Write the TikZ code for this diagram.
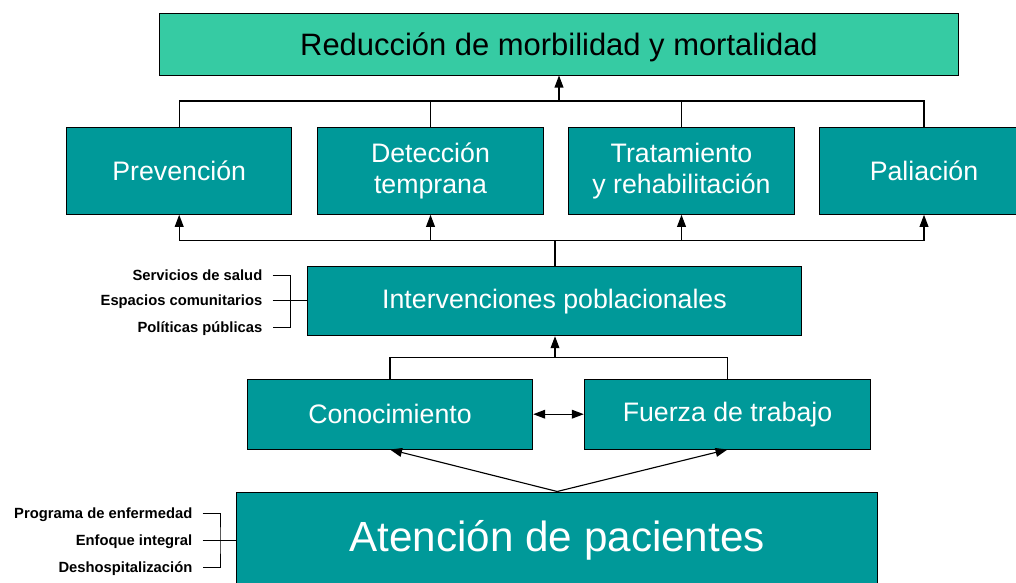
\documentclass[tikz,border=0pt]{standalone}
\usepackage{fontspec}
\setmainfont{Liberation Sans}
\usetikzlibrary{arrows.meta}
\definecolor{verdeagua}{HTML}{36CBA3}
\definecolor{verdeazul}{HTML}{009999}
\tikzset{
  caja/.style={draw, line width=0.7pt, fill=verdeazul, text=white, align=center, inner sep=0pt, font=\fontsize{19}{22}\selectfont},
  etiq/.style={anchor=east, inner sep=0pt, outer xsep=0.26cm, text height=7.5pt, text depth=0pt, font=\fontsize{10.5}{12}\selectfont\bfseries},
  punta/.tip={Triangle[length=3mm,width=2.2mm]},
  flecha/.style={-punta},
  linea/.style={line width=0.8pt},
  llave/.style={line width=0.6pt}
}
\begin{document}
\begin{tikzpicture}[x=0.025cm, y=-0.025cm]
  \useasboundingbox (0,0) rectangle (1016,583);
  %Objetivo
  \node [caja, fill=verdeagua, text=black, font=\fontsize{22}{26}\selectfont, text height=17pt, text depth=1pt, minimum width=19.95cm, minimum height=1.525cm]
  (reduc)at(559,44.5){Reducción de morbilidad y mortalidad};
  %Estrategias
  \node [caja, minimum width=5.625cm, minimum height=2.175cm]
  (prev)at(179.2,170.8){Prevención};
  \node [caja, minimum width=5.625cm, minimum height=2.175cm]
  (detec)at(430.5,170.8){Detección\\temprana};
  \node [caja, minimum width=5.625cm, minimum height=2.175cm]
  (trat)at(681.5,170.8){Tratamiento\\y rehabilitación};
  \node [caja, minimum width=5.2cm, minimum height=2.175cm]
  (palia)at(924,170.8){Paliación};
  %Intervenciones
  \node [caja, minimum width=12.34cm, minimum height=1.725cm]
  (interv)at(554.5,301.2){Intervenciones poblacionales};
  %Conocimiento y fuerza de trabajo
  \node [caja, minimum width=7.135cm, minimum height=1.74cm]
  (conoc)at(390,414.2){Conocimiento};
  \node [caja, minimum width=7.16cm, minimum height=1.74cm]
  (fuerza)at(727.5,414.2){Fuerza de trabajo};
  %Atencion
  \node [caja, font=\fontsize{30}{36}\selectfont, minimum width=16.025cm, minimum height=2.4cm]
  (atenc)at(557.2,540){Atención de pacientes};
  %Etiquetas
  \node [etiq] (serv)at(272.7,275.5){Servicios de salud};
  \node [etiq] (espac)at(272.7,300.7){Espacios comunitarios};
  \node [etiq] (polit)at(272.7,327){Políticas públicas};
  \node [etiq] (progr)at(202.7,513.7){Programa de enfermedad};
  \node [etiq] (enfoq)at(202.7,540.7){Enfoque integral};
  \node [etiq] (deshos)at(202.7,567.3){Deshospitalización};

  %Conectores
  \coordinate (union1) at (559,101);
  \coordinate (union2) at (555,240.7);
  \coordinate (union3) at (555,357.3);
  \coordinate (llave1) at (290.7,300.7);
  \coordinate (llave2) at (220,540.7);

  \draw [linea] (prev.north) |- (union1) -| (palia.north);
  \draw [linea] (detec.north) -- (detec.north |- union1);
  \draw [linea] (trat.north) -- (trat.north |- union1);
  \draw [linea, flecha] (union1) -- (union1 |- reduc.south);

  \draw [linea] (union2 |- interv.north) -- (union2);
  \draw [linea] (prev.south |- union2) -- (palia.south |- union2);
  \foreach \nodo in {prev, detec, trat, palia}
    \draw [linea, flecha] (\nodo.south |- union2) -- (\nodo.south);

  \draw [linea, flecha] (union3) -- (union3 |- interv.south);
  \draw [linea] (conoc.north) |- (union3) -| (fuerza.north);
  \draw [linea, punta-punta] (conoc.east) -- (fuerza.west);
  \draw [linea, flecha] (atenc.north) -- (conoc.south);
  \draw [linea, flecha] (atenc.north) -- (fuerza.south);

  %Llaves
  \draw [llave] (serv.east) -| (llave1) |- (polit.east);
  \draw [linea] (espac.east) -- (espac.east -| interv.west);
  \draw [llave] (progr.east) -| (llave2) |- (deshos.east);
  \draw [linea] (enfoq.east) -- (enfoq.east -| atenc.west);
\end{tikzpicture}
\end{document}
